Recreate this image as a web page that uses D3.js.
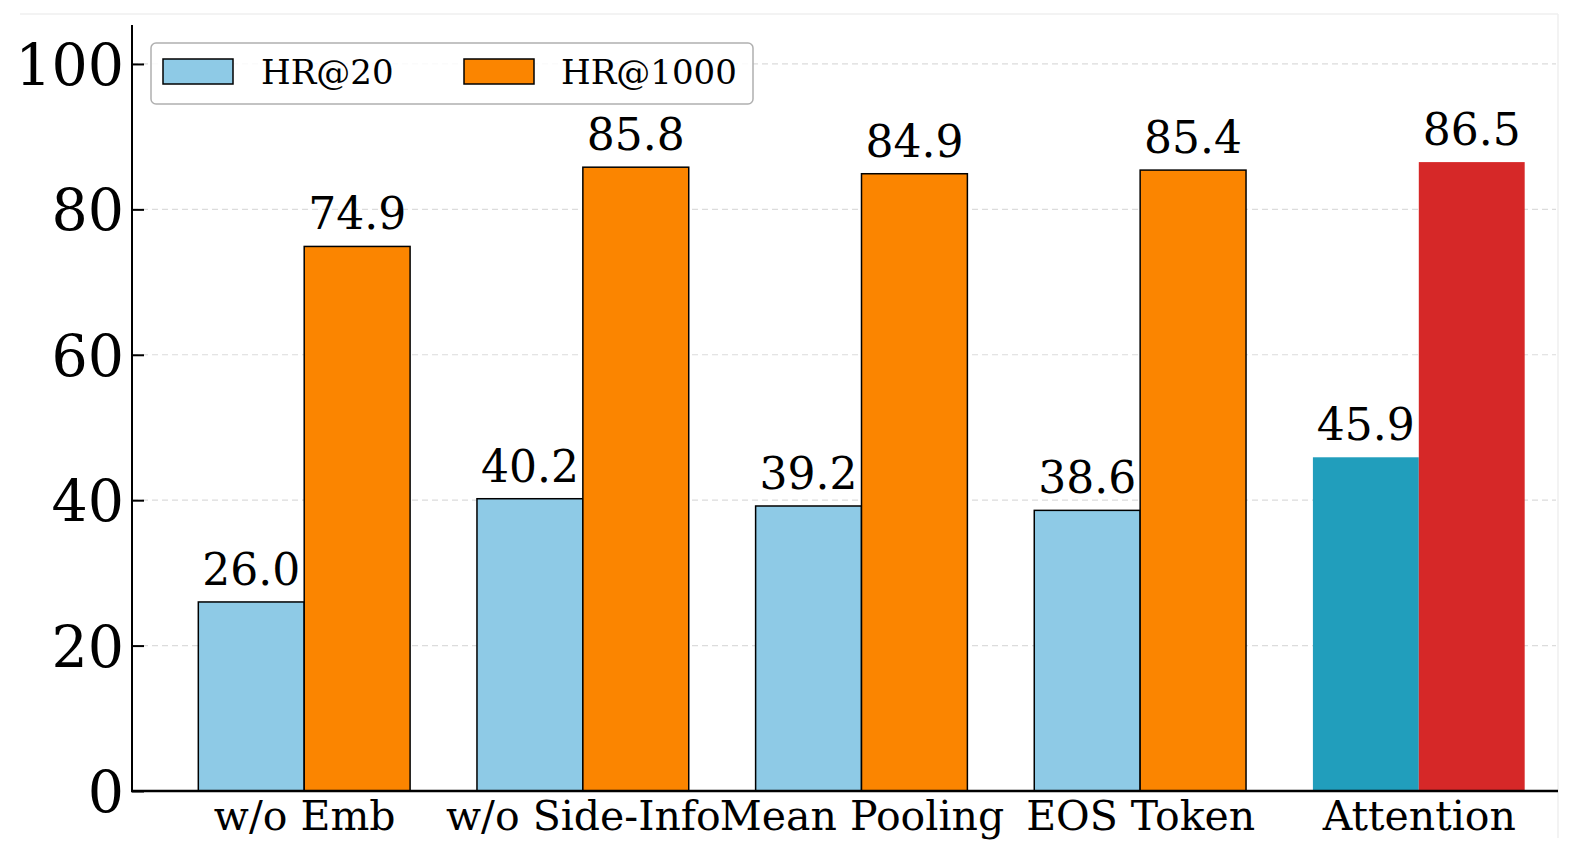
<!DOCTYPE html>
<html>
<head>
<meta charset="utf-8">
<script src="https://cdn.jsdelivr.net/npm/d3@7"></script>
<style>
  body { margin: 0; background: #fff; }
  text { font-family: "DejaVu Serif", serif; fill: #000; }
</style>
</head>
<body>
<div id="chart"></div>
<script>
const categories = ["w/o Emb", "w/o Side-Info", "Mean Pooling", "EOS Token", "Attention"];
const hr20 = [26.0, 40.2, 39.2, 38.6, 45.9];
const hr1000 = [74.9, 85.8, 84.9, 85.4, 86.5];
const yTicks = [0, 20, 40, 60, 80, 100];
const seriesNames = ["HR@20", "HR@1000"];

const W = 1584, H = 856;
const colors = { hr20: "#8ECAE6", hr1000: "#FB8500", hr20Best: "#219EBC", hr1000Best: "#D62828" };

const svg = d3.select("#chart").append("svg")
    .attr("width", W).attr("height", H);

// scales (x in category-index units, like matplotlib)
const x = d3.scaleLinear().domain([-0.618, 4.618]).range([132, 1591]);
const y = d3.scaleLinear().domain([0, 105]).range([791, 27.6]);
const barW = 0.38;

// faint outer frame (cropped figure edge)
svg.append("line").attr("x1", 20).attr("x2", 1558).attr("y1", 14).attr("y2", 14)
    .attr("stroke", "#efefef").attr("stroke-width", 1.5);
svg.append("line").attr("x1", 1558).attr("x2", 1558).attr("y1", 14).attr("y2", 838)
    .attr("stroke", "#efefef").attr("stroke-width", 1.5);

// grid
svg.append("g").selectAll("line").data(yTicks.slice(1)).join("line")
    .attr("x1", 132).attr("x2", 1556)
    .attr("y1", d => y(d)).attr("y2", d => y(d))
    .attr("stroke", "#dcdcdc").attr("stroke-width", 1.2)
    .attr("stroke-dasharray", "6,4");

// bars
const last = categories.length - 1;
const g = svg.append("g");
g.selectAll(".b20").data(hr20).join("rect")
    .attr("x", (d, i) => x(i - barW))
    .attr("y", d => y(d))
    .attr("width", x(barW) - x(0))
    .attr("height", d => y(0) - y(d))
    .attr("fill", (d, i) => i === last ? colors.hr20Best : colors.hr20)
    .attr("stroke", (d, i) => i === last ? "none" : "#000")
    .attr("stroke-width", 1.5);
g.selectAll(".b1000").data(hr1000).join("rect")
    .attr("x", (d, i) => x(i))
    .attr("y", d => y(d))
    .attr("width", x(barW) - x(0))
    .attr("height", d => y(0) - y(d))
    .attr("fill", (d, i) => i === last ? colors.hr1000Best : colors.hr1000)
    .attr("stroke", (d, i) => i === last ? "none" : "#000")
    .attr("stroke-width", 1.5);

// value labels
g.selectAll(".l20").data(hr20).join("text")
    .attr("x", (d, i) => x(i - barW / 2))
    .attr("y", d => y(d) - 17)
    .attr("text-anchor", "middle")
    .attr("font-size", 44)
    .text(d => d.toFixed(1));
g.selectAll(".l1000").data(hr1000).join("text")
    .attr("x", (d, i) => x(i + barW / 2))
    .attr("y", d => y(d) - 17)
    .attr("text-anchor", "middle")
    .attr("font-size", 44)
    .text(d => d.toFixed(1));

// y axis
const yAxis = svg.append("g").attr("transform", "translate(132,0)")
    .call(d3.axisLeft(y).tickValues(yTicks).tickSize(-12).tickPadding(20).tickFormat(d3.format("d")));
yAxis.select(".domain").remove();
yAxis.selectAll(".tick line").attr("stroke", "#000").attr("stroke-width", 2);
yAxis.selectAll(".tick text").attr("font-size", 57).attr("font-family", "DejaVu Serif")
    .attr("x", -8).attr("dy", "0.36em");
svg.append("line").attr("x1", 132).attr("x2", 132).attr("y1", 25).attr("y2", 792)
    .attr("stroke", "#000").attr("stroke-width", 2);

// x axis
const xAxis = svg.append("g").attr("transform", "translate(0,791)")
    .call(d3.axisBottom(x).tickValues(d3.range(categories.length)).tickSize(0).tickPadding(10)
        .tickFormat(i => categories[i]));
xAxis.select(".domain").remove();
xAxis.selectAll(".tick text").attr("font-size", 41).attr("font-family", "DejaVu Serif")
    .attr("y", 39).attr("dy", 0);
svg.append("line").attr("x1", 131).attr("x2", 1558).attr("y1", 791).attr("y2", 791)
    .attr("stroke", "#000").attr("stroke-width", 2.4);

// legend
const leg = svg.append("g");
leg.append("rect").attr("x", 151).attr("y", 43).attr("width", 602).attr("height", 61)
    .attr("rx", 5).attr("fill", "#fff").attr("fill-opacity", 0.85)
    .attr("stroke", "#b0b0b0").attr("stroke-width", 1.5);
const legItems = [
    { name: seriesNames[0], color: colors.hr20, px: 163, tx: 261 },
    { name: seriesNames[1], color: colors.hr1000, px: 464, tx: 561 }
];
leg.selectAll(".patch").data(legItems).join("rect")
    .attr("x", d => d.px).attr("y", 59).attr("width", 70).attr("height", 25)
    .attr("fill", d => d.color).attr("stroke", "#000").attr("stroke-width", 1.5);
leg.selectAll(".lt").data(legItems).join("text")
    .attr("x", d => d.tx).attr("y", 84)
    .attr("font-size", 34)
    .text(d => d.name);
</script>
</body>
</html>
